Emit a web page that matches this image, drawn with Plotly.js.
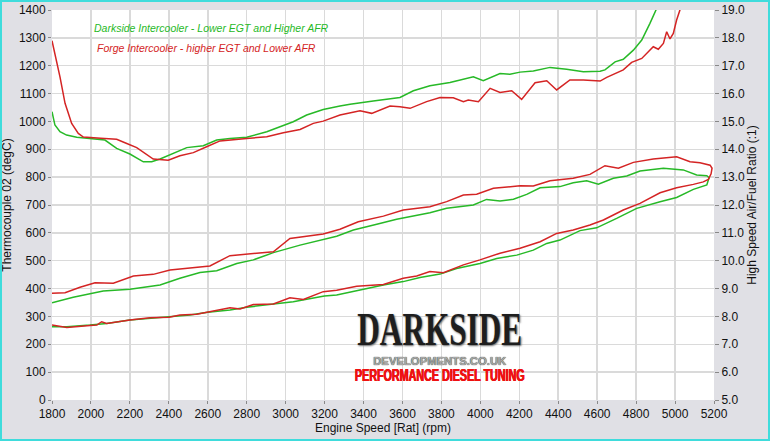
<!DOCTYPE html>
<html>
<head>
<meta charset="utf-8">
<script src="https://cdn.plot.ly/plotly-3.0.1.min.js"></script>
<style>
html,body{margin:0;padding:0;background:#e0e0e5;}
#wrap{position:relative;width:770px;height:441px;}
#chart{width:770px;height:441px;}
#frame{position:absolute;left:0;top:0;width:770px;height:441px;box-sizing:border-box;border:2px solid #3fdcdc;pointer-events:none;}
</style>
</head>
<body>
<div id="wrap"><div id="chart"></div><div id="frame"></div></div>
<script>
// ---- Air/Fuel ratio (right axis) ----
var afrRpmDarkside = [1800,1815,1841,1875,1927,1995,2072,2132,2200,2269,2312,2355,2423,2492,2577,2646,2714,2800,2903,3039,3108,3193,3279,3331,3450,3587,3656,3741,3844,3964,4015,4101,4152,4204,4272,4358,4443,4529,4615,4640,4692,4734,4786,4829,4871,4902,4925];
var afrDarkside    = [15.35,14.87,14.63,14.51,14.43,14.39,14.33,14.03,13.83,13.55,13.55,13.65,13.85,14.06,14.13,14.33,14.39,14.43,14.63,14.99,15.23,15.43,15.55,15.62,15.73,15.86,16.10,16.28,16.40,16.60,16.46,16.72,16.69,16.77,16.81,16.94,16.87,16.78,16.80,16.85,17.14,17.23,17.56,17.92,18.52,19.00,19.50];

var afrRpmForge = [1800,1824,1841,1867,1901,1935,1961,2050,2132,2184,2235,2320,2397,2457,2526,2594,2663,2800,2903,2988,3074,3142,3193,3279,3382,3442,3536,3587,3639,3724,3793,3861,3913,3938,3990,4050,4101,4161,4212,4281,4341,4392,4460,4529,4615,4649,4734,4777,4829,4888,4914,4940,4957,4974,4991,5008,5025,5040];
var afrForge    = [17.90,17.20,16.60,15.65,14.93,14.57,14.44,14.40,14.36,14.21,14.06,13.65,13.61,13.77,13.88,14.09,14.30,14.39,14.45,14.59,14.71,14.93,15.01,15.23,15.38,15.29,15.55,15.53,15.47,15.71,15.86,15.85,15.71,15.77,15.71,16.19,16.04,16.10,15.79,16.39,16.46,16.13,16.49,16.49,16.45,16.58,16.85,17.12,17.26,17.68,17.59,17.80,18.22,17.96,18.16,18.64,19.00,19.50];

// ---- Thermocouple 02 (left axis), run up then run down ----
var egtRpmDarksideUp = [1800,1876,1995,2081,2200,2401,2509,2600,2714,2800,2937,3039,3199,3262,3382,3502,3604,3690,3793,3878,3998,4084,4187,4272,4341,4409,4512,4597,4700,4803,4923,5008,5094,5163,5171];
var egtDarksideUp    = [263,263,269,275,287,297,305,315,323,333,345,353,373,377,395,413,425,440,452,472,490,508,520,538,562,574,608,618,652,688,712,727,756,772,790];
var egtRpmDarksideDown = [5175,5163,5111,5042,4940,4820,4752,4683,4606,4546,4477,4409,4307,4238,4170,4101,4032,3964,3827,3741,3570,3468,3348,3262,3193,3074,2937,2834,2749,2646,2560,2457,2355,2200,2063,1909,1800];
var egtDarksideDown    = [798,805,808,826,832,822,804,796,775,787,780,766,762,738,721,714,720,700,688,672,649,631,610,588,577,556,529,503,490,464,458,437,413,398,391,369,349];

var egtRpmForgeUp = [1800,1876,1995,2030,2055,2081,2200,2303,2401,2457,2543,2629,2714,2766,2834,2937,3022,3091,3193,3262,3365,3502,3604,3673,3741,3810,3913,3998,4101,4204,4307,4392,4477,4563,4632,4734,4820,4923,5008,5094,5145,5171,5185];
var egtForgeUp    = [269,260,267,269,281,275,287,295,297,305,308,319,331,327,343,345,367,361,389,394,408,415,437,445,461,457,485,503,527,545,568,598,610,628,646,682,706,744,762,774,783,792,812];
var egtRpmForgeDown = [5190,5180,5128,5077,5008,4888,4786,4709,4640,4563,4477,4358,4272,4204,4067,3981,3913,3827,3741,3604,3502,3373,3279,3193,3022,2937,2851,2714,2611,2406,2320,2218,2115,2021,1944,1867,1800];
var egtForgeDown    = [832,843,852,855,873,865,853,832,841,810,796,787,768,769,760,739,736,712,694,682,660,640,613,596,580,532,527,518,481,467,451,445,419,421,405,385,383];

var seriesNames = ['Darkside Intercooler - Lower EGT and Higher AFR','Forge Intercooler - higher EGT and Lower AFR'];
var logoLines = ['DARKSIDE','DEVELOPMENTS.CO.UK','PERFORMANCE DIESEL TUNING'];

var green = '#27b927', red = '#d42424';
var lw = 1.5;

var traces = [
  {x: afrRpmDarkside, y: afrDarkside, yaxis:'y2', mode:'lines', line:{color:green,width:lw}, name:seriesNames[0]},
  {x: afrRpmForge, y: afrForge, yaxis:'y2', mode:'lines', line:{color:red,width:lw}, name:seriesNames[1]},
  {x: egtRpmDarksideUp.concat(egtRpmDarksideDown), y: egtDarksideUp.concat(egtDarksideDown), mode:'lines', line:{color:green,width:lw}, name:seriesNames[0]},
  {x: egtRpmForgeUp.concat(egtRpmForgeDown), y: egtForgeUp.concat(egtForgeDown), mode:'lines', line:{color:red,width:lw}, name:seriesNames[1]}
];

var fam = 'Liberation Sans, Arial, sans-serif';
var tickFont = {family:fam, size:12, color:'#111'};
var gridC = '#dadada';

var layout = {
  width:770, height:441,
  margin:{l:52, r:56, t:10, b:41, pad:0},
  paper_bgcolor:'#e0e0e5', plot_bgcolor:'#ffffff',
  showlegend:false,
  xaxis:{range:[1800,5200], dtick:200, tick0:1800, showgrid:true, gridcolor:gridC, gridwidth:1.5,
    zeroline:false, ticks:'outside', ticklen:3, tickcolor:'#888', tickfont:tickFont,
    title:{text:'Engine Speed [Rat] (rpm)', font:{family:fam, size:12, color:'#111'}, standoff:2}},
  yaxis:{range:[0,1400], dtick:100, tick0:0, showgrid:true, gridcolor:gridC, gridwidth:1.5,
    zeroline:false, ticks:'outside', ticklen:3, tickcolor:'#888', tickfont:tickFont,
    title:{text:'Thermocouple 02 (degC)', font:{family:fam, size:12, color:'#111'}, standoff:6}},
  yaxis2:{range:[5,19], dtick:1, tick0:5, overlaying:'y', side:'right', showgrid:false, zeroline:false,
    ticks:'outside', ticklen:4, tickcolor:'#888', tickformat:'.1f', tickfont:tickFont,
    title:{text:'High Speed Air/Fuel Ratio (:1)', font:{family:fam, size:12, color:'#111'}, standoff:2}},
  annotations:[
    {xref:'paper', yref:'paper', x:0.060, y:0.954, xanchor:'left', yanchor:'middle', showarrow:false,
     text:'<i>'+seriesNames[0]+'</i>', font:{family:fam, size:10.5, color:green}},
    {xref:'paper', yref:'paper', x:0.065, y:0.903, xanchor:'left', yanchor:'middle', showarrow:false,
     text:'<i>'+seriesNames[1]+'</i>', font:{family:fam, size:10.5, color:red}},
    {xref:'paper', yref:'paper', x:0.586, y:0.170, xanchor:'center', yanchor:'middle', showarrow:false,
     text:'<b>'+logoLines[0]+'</b>', font:{family:'Liberation Serif, DejaVu Serif, serif', size:34, color:'#1e1e1e', shadow:'1px 1px 2px #6a6a6a'}},
    {xref:'paper', yref:'paper', x:0.586, y:0.101, xanchor:'center', yanchor:'middle', showarrow:false,
     text:'<b>'+logoLines[1]+'</b>', font:{family:fam, size:11.5, color:'#a8a8a8', shadow:'0px 0px 1px #000'}},
    {xref:'paper', yref:'paper', x:0.586, y:0.064, xanchor:'center', yanchor:'middle', showarrow:false,
     text:'<b>'+logoLines[2]+'</b>', font:{family:fam, size:13, weight:700, color:'#ee1111', shadow:'0.5px 0 0 #ee1111, -0.4px 0 0 #ee1111'}}
  ]
};

// target logo widths / vertical stretch to mimic the condensed logo lettering
var logoFit = {2:{w:165, sy:1.35, oy:'80%'}, 3:{w:134, sy:1.0, oy:'center'}, 4:{w:170, sy:1.2, oy:'center'}};

Plotly.newPlot('chart', traces, layout, {displayModeBar:false, staticPlot:true}).then(function(gd){
  var anns = gd.querySelectorAll('.annotation');
  anns.forEach(function(a){
    var idx = +a.getAttribute('data-index');
    var fit = logoFit[idx];
    if(!fit) return;
    var t = a.querySelector('text.annotation-text');
    if(!t) return;
    var bb = t.getBBox();
    var sx = fit.w / bb.width;
    t.style.transformBox = 'fill-box';
    t.style.transformOrigin = 'center ' + fit.oy;
    t.style.transform = 'scale(' + sx.toFixed(3) + ',' + fit.sy + ')';
  });
});
</script>
</body>
</html>
